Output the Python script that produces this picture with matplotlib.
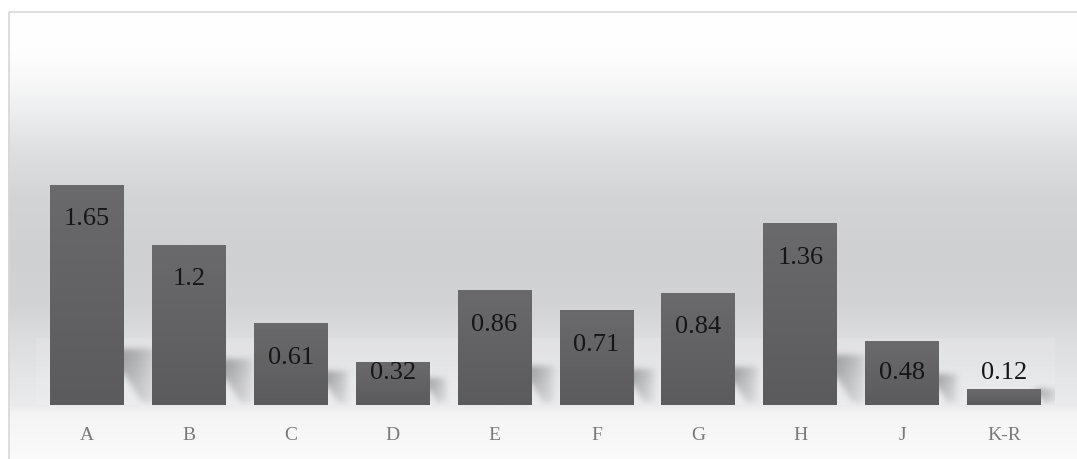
import numpy as np
import matplotlib
matplotlib.use("Agg")
import matplotlib.pyplot as plt
from matplotlib.colors import LinearSegmentedColormap, to_rgb
from matplotlib.patches import Rectangle

categories = ["A", "B", "C", "D", "E", "F", "G", "H", "J", "K-R"]
values = [1.65, 1.2, 0.61, 0.32, 0.86, 0.71, 0.84, 1.36, 0.48, 0.12]
value_labels = ["1.65", "1.2", "0.61", "0.32", "0.86", "0.71", "0.84", "1.36", "0.48", "0.12"]

W, H = 1077, 460
fig = plt.figure(figsize=(W / 100, H / 100), dpi=100)

# ---- background panel with vertical gradient ----
bg = fig.add_axes([0, 0, 1, 1])
bg.set_xlim(0, W)
bg.set_ylim(H, 0)
bg.axis("off")
stops = [(0, "#ffffff"), (40, "#fefefe"), (70, "#f8f8f8"), (100, "#eeeff0"),
         (140, "#dfe0e2"), (190, "#d3d4d6"), (250, "#cfd0d2"), (300, "#d2d3d5"),
         (340, "#dddee0"), (380, "#e5e6e8"), (405, "#ebebed"), (412, "#f4f4f4"),
         (460, "#fbfbfb")]
rows = np.arange(H)
sy = np.array([s[0] for s in stops], float)
sc = np.array([to_rgb(s[1]) for s in stops])
grad = np.stack([np.interp(rows, sy, sc[:, k]) for k in range(3)], axis=-1)
img = np.repeat(grad[:, None, :], 2, axis=1)
bg.imshow(img, extent=(8, W, H, 12), aspect="auto", interpolation="bilinear", zorder=0)
bg.add_patch(Rectangle((8.5, 12.5), W, H, fill=False, edgecolor="#d8d8d8", lw=1.2, zorder=1))

# ---- main axes ----
px_y = 133.33
ax = fig.add_axes([36 / W, (H - 406) / H, (1055 - 36) / W, (406 - 12) / H])
ymax = (406 - 12) / px_y
ax.patch.set_alpha(0)
for s in ax.spines.values():
    s.set_visible(False)

x = np.arange(len(categories))
bar_w = 0.725
px_x = (1055 - 36) / len(categories)

# floor band
ax.axhspan(0, 0.5, color="white", alpha=0.12, lw=0, zorder=0.5)

# shadows cast on the floor, to the right of each bar
gx = np.linspace(-0.5, len(categories) - 0.5, 1019)
gy = np.linspace(0, 0.6, 80)
XX, YY = np.meshgrid(gx, gy)
shadow = np.zeros_like(XX)
for i, v in enumerate(values):
    right = x[i] + bar_w / 2
    hs_px = min(20 + 22 * v, v * px_y)
    L = 14 + 12 * v
    dx = (XX - right) * px_x
    dy = hs_px - YY * px_y
    inside = (dx >= -6) & (dx <= L) & (dy >= 0) & \
             (dy <= 0.45 * hs_px + 1.6 * np.maximum(dx, 0)) & (YY * px_y >= 2)
    inten = np.clip(1 - np.maximum(dx, 0) / L, 0, 1) ** 0.6 * \
        (1 - 0.45 * np.clip(dy / hs_px, 0, 1))
    shadow = np.maximum(shadow, inside * inten)


def blur(a, sigma, axis):
    r = int(3 * sigma)
    k = np.exp(-0.5 * (np.arange(-r, r + 1) / sigma) ** 2)
    k /= k.sum()
    return np.apply_along_axis(
        lambda z: np.convolve(np.pad(z, r, mode="edge"), k, mode="valid"), axis, a)


shadow = blur(blur(shadow, 3, 1), 3, 0)
rgba = np.zeros(shadow.shape + (4,))
rgba[..., :3] = 0.25
rgba[..., 3] = np.clip(shadow * 0.42, 0, 1)
ax.imshow(rgba, extent=(-0.5, len(categories) - 0.5, 0, 0.6), origin="lower",
          aspect="auto", interpolation="bilinear", zorder=1)

# bars
bars = ax.bar(x, values, width=bar_w, color="#606062", lw=0, zorder=2)
cmap = LinearSegmentedColormap.from_list("barg", ["#5b5b5d", "#6a6a6c"])
gcol = np.linspace(0, 1, 100)[:, None]
for b in bars:
    ax.imshow(gcol, extent=(b.get_x(), b.get_x() + b.get_width(), 0, b.get_height()),
              origin="lower", cmap=cmap, aspect="auto", zorder=3, interpolation="bilinear")

# value labels
for i, (v, lab) in enumerate(zip(values, value_labels)):
    ax.text(x[i], max(v - 0.25, 0.25), lab, ha="center", va="center",
            fontsize=19, family="Liberation Serif", color="#161616", zorder=5)

ax.set_xlim(-0.5, len(categories) - 0.5)
ax.set_ylim(0, ymax)
ax.set_yticks([])
ax.set_xticks(x)
ax.set_xticklabels(categories, family="Liberation Serif", fontsize=14, color="#7a7a7a")
ax.tick_params(axis="x", length=0, pad=15)

fig.savefig("out.png", dpi=100)
